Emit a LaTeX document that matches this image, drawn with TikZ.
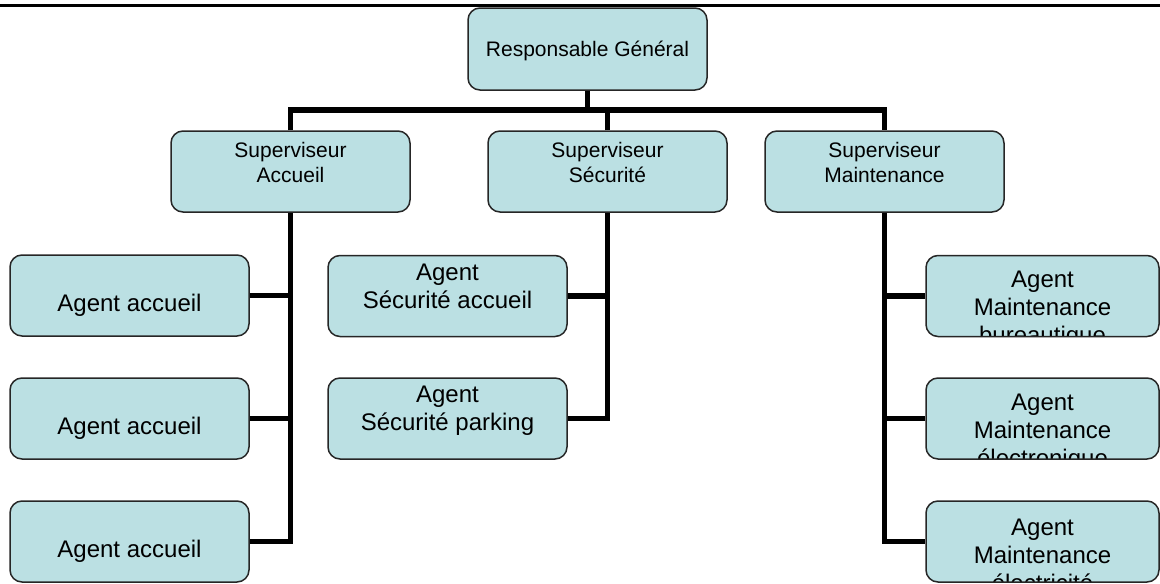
\documentclass[tikz,border=0pt]{standalone}
\usepackage{fontspec}
\setmainfont{Liberation Sans}
\definecolor{boxfill}{RGB}{187,224,227}
\tikzset{
  orgbox/.style={draw=black!85, line width=1.5pt, rounded corners=12pt, fill=boxfill,
    minimum width=239pt, minimum height=81pt, inner sep=3pt, align=center},
  chief/.style={orgbox, minimum height=82pt, font=\fontsize{21}{25}\selectfont, text height=20pt, text depth=4.6pt},
  super/.style={orgbox, font=\fontsize{21}{25}\selectfont, text height=40pt, text depth=19pt},
  agent/.style={orgbox, font=\fontsize{24}{28}\selectfont, text height=40pt, text depth=7.4pt},
  agenttwo/.style={orgbox, font=\fontsize{24}{28}\selectfont, text height=44pt, text depth=20pt},
  agentcut/.style={orgbox, minimum width=233pt, path picture={
    \node[align=center, inner sep=0pt, anchor=north, font=\fontsize{24}{28}\selectfont]
      at ([yshift=-13pt]path picture bounding box.north) {#1};}},
  link/.style={line width=5.5pt}
}
\begin{document}
\begin{tikzpicture}[x=1pt, y=1pt]
\useasboundingbox (0,0) rectangle (1160,-584);
\draw[line width=2.5pt] (0,-5.3) -- (1160,-5.3);
\node[chief] (rg) at (587.5,-49) {Responsable Général};
\node[super] (sa) at (290.5,-171.5) {Superviseur\\Accueil};
\node[super] (ss) at (607.5,-171.5) {Superviseur\\Sécurité};
\node[super] (sm) at (884.5,-171.5) {Superviseur\\Maintenance};
\node[agent] (a1) at (129.5,-295.5) {Agent accueil};
\node[agent] (a2) at (129.5,-418.5) {Agent accueil};
\node[agent] (a3) at (129.5,-541.5) {Agent accueil};
\node[agenttwo] (s1) at (447.5,-296) {Agent\\Sécurité accueil};
\node[agenttwo] (s2) at (447.5,-418.5) {Agent\\Sécurité parking};
\node[agentcut={Agent\\Maintenance\\bureautique}] (m1) at (1042.5,-296) {};
\node[agentcut={Agent\\Maintenance\\électronique}] (m2) at (1042.5,-418.5) {};
\node[agentcut={Agent\\Maintenance\\électricité}] (m3) at (1042.5,-541.5) {};
\coordinate (bus) at (0,-110);
\draw[link] (rg.south) -- (rg.south |- bus);
\draw[link] (sa.north) -- (sa.north |- bus) -- (sm.north |- bus) -- (sm.north);
\draw[link] (ss.north) -- (ss.north |- bus);
\draw[link] (sa.south) |- (a3.east);
\draw[link] (a1.east) -- (a1.east -| sa.south);
\draw[link] (a2.east) -- (a2.east -| sa.south);
\draw[link] (ss.south) |- (s2.east);
\draw[link] (s1.east) -- (s1.east -| ss.south);
\draw[link] (sm.south) |- (m3.west);
\draw[link] (m1.west) -- (m1.west -| sm.south);
\draw[link] (m2.west) -- (m2.west -| sm.south);
\end{tikzpicture}
\end{document}
